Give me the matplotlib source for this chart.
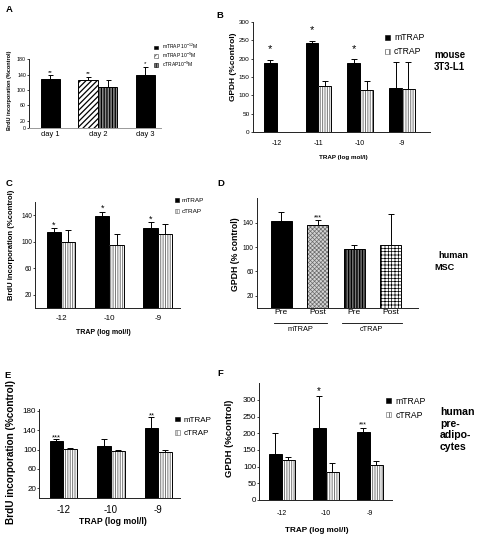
import numpy as np
import matplotlib
matplotlib.use('Agg')
import matplotlib.pyplot as plt
from matplotlib.patches import Patch
from matplotlib.transforms import blended_transform_factory

plt.rcParams['font.family'] = ['Liberation Sans', 'DejaVu Sans']
plt.rcParams['mathtext.default'] = 'regular'
plt.rcParams['hatch.linewidth'] = 0.6

# ---------------- data ----------------
# Panel A (BrdU, days)
a_days = ['day 1', 'day 2', 'day 3']
a_m12_pos = [0, 2]
a_m12 = [128, 139]
a_m12_err = [10, 22]
a_m12_stars = ['**', '*']
a_m9 = [126]
a_m9_err = [9]
a_m9_stars = ['**']
a_c9 = [109]
a_c9_err = [17]
a_legend = ['mTRAP 10$^{-12}$M', 'mTRAP 10$^{-9}$M', 'cTRAP10$^{-9}$M']

# Panel B (GPDH mouse 3T3-L1)
b_conc = ['-12', '-11', '-10', '-9']
b_mtrap = [187, 242, 189, 120]
b_mtrap_err = [9, 7, 9, 71]
b_ctrap_pos = [1, 2, 3]
b_ctrap = [126, 115, 116]
b_ctrap_err = [12, 25, 75]
b_stars = ['*', '*', '*', '']

# Panel C (BrdU MSC)
c_conc = ['-12', '-10', '-9']
c_mtrap = [115, 138, 120]
c_mtrap_err = [5, 7, 9]
c_ctrap = [99, 95, 112]
c_ctrap_err = [18, 16, 15]
c_stars = ['*', '*', '*']

# Panel D (GPDH MSC)
d_labels = ['Pre', 'Post', 'Pre', 'Post']
d_groups = ['mTRAP', 'cTRAP']
d_values = [142, 136, 96, 104]
d_err = [15.5, 8, 7, 50]
d_stars = ['', '***', '', '']

# Panel E (BrdU pre-adipocytes)
e_conc = ['-12', '-10', '-9']
e_mtrap = [118, 108, 145]
e_mtrap_err = [3, 14, 22]
e_ctrap = [101, 97, 94]
e_ctrap_err = [2, 1.5, 6]
e_stars = ['***', '', '**']

# Panel F (GPDH pre-adipocytes)
f_conc = ['-12', '-10', '-9']
f_mtrap = [138, 215, 203]
f_mtrap_err = [64, 98, 12]
f_ctrap = [120, 85, 105]
f_ctrap_err = [10, 27, 12]
f_stars = ['', '*', '***']

# ---------------- helpers ----------------
W, H = 478, 538
fig = plt.figure(figsize=(W / 100, H / 100), dpi=100)


def PX(x):
    return x / W


def PY(y):
    return 1 - y / H


def make_ax(l, r, t, b):
    ax = fig.add_axes([l / W, 1 - b / H, (r - l) / W, (b - t) / H])
    ax.patch.set_visible(False)
    return ax


def bars(ax, x, h, w, face, hatch=None, hcolor='black', hlw=0.6):
    x = np.asarray(x, float)
    h = np.asarray(h, float)
    if hatch:
        bc = ax.bar(x, h, w, color=face, edgecolor=hcolor, hatch=hatch,
                    linewidth=0, zorder=2)
        for p in bc:
            try:
                p.set_hatch_linewidth(hlw)
            except AttributeError:
                pass
        ax.bar(x, h, w, fill=False, edgecolor='black', linewidth=0.7, zorder=3)
    else:
        ax.bar(x, h, w, color=face, edgecolor='black', linewidth=0.7, zorder=2)


def errs(ax, x, h, e, cap=2.2):
    e = np.asarray(e, float)
    ax.errorbar(np.asarray(x, float), h, yerr=[np.zeros(len(e)), e], fmt='none',
                ecolor='black', elinewidth=0.7, capsize=cap, capthick=0.7,
                zorder=1)


def stars(ax, x, top, labels, off_px, fs):
    for xi, ti, s in zip(x, top, labels):
        if s:
            ax.annotate(s, (xi, ti), xytext=(0, off_px * 0.72 - 0.58 * fs),
                        textcoords='offset points', ha='center',
                        va='baseline', fontsize=fs)


def style(ax, xlim, ylim, yticks, xticks, xlabels, ytfs, xtfs, xpad,
          spinec='#222222', bottomc=None):
    ax.set_xlim(*xlim)
    ax.set_ylim(*ylim)
    ax.spines['top'].set_visible(False)
    ax.spines['right'].set_visible(False)
    ax.spines['left'].set_linewidth(0.7)
    ax.spines['left'].set_color(spinec)
    ax.spines['bottom'].set_linewidth(0.7)
    ax.spines['bottom'].set_color(bottomc or spinec)
    ax.set_yticks(yticks)
    ax.set_xticks(xticks, xlabels)
    ax.tick_params(axis='y', length=1.6, width=0.6, labelsize=ytfs, pad=0.6,
                   color=spinec)
    ax.tick_params(axis='x', length=0, labelsize=xtfs, pad=xpad)


def legend(ax, handles, labels, x_left, y_center, fs, lsp, hl=0.6, hh=0.5,
           htp=0.5):
    ax.legend(handles, labels, loc='center left',
              bbox_to_anchor=(PX(x_left), PY(y_center)),
              bbox_transform=fig.transFigure, frameon=False, fontsize=fs,
              borderpad=0, borderaxespad=0, handlelength=hl, handleheight=hh,
              handletextpad=htp, labelspacing=lsp)


def ftext(x, y, s, fs, bold=True, rot=0, ha='center', va='center', **kw):
    fig.text(PX(x), PY(y), s, fontsize=fs, fontweight='bold' if bold else 'normal',
             rotation=rot, ha=ha, va=va, **kw)


blk_h = Patch(facecolor='black', edgecolor='black', lw=0.4)
ctr_h = Patch(facecolor='white', edgecolor='#666666', hatch='||||', lw=0.4)

# ---------------- Panel A ----------------
axA = make_ax(29, 161, 59.3, 128.3)
wA = 0.41
bars(axA, a_m12_pos, a_m12, wA, 'black')
errs(axA, a_m12_pos, a_m12, a_m12_err, cap=1.8)
stars(axA, a_m12_pos, np.add(a_m12, a_m12_err), a_m12_stars, 5, 4.5)
xA9 = [1 - wA / 2]
xAc = [1 + wA / 2]
bars(axA, xA9, a_m9, wA, 'white', hatch='//////', hcolor='black', hlw=0.9)
errs(axA, xA9, a_m9, a_m9_err, cap=1.8)
stars(axA, xA9, np.add(a_m9, a_m9_err), a_m9_stars, 5, 4.5)
bars(axA, xAc, a_c9, wA, '#8a8a8a', hatch='||||||', hcolor='black', hlw=0.9)
errs(axA, xAc, a_c9, a_c9_err, cap=1.8)
style(axA, (-0.447, 2.33), (0, 180), [0, 20, 60, 100, 140, 180], [0, 1, 2],
      a_days, 3.8, 5.4, 2, bottomc='#999999')
legend(axA, [blk_h,
             Patch(facecolor='white', edgecolor='#555555', hatch='//////', lw=0.4),
             Patch(facecolor='#8a8a8a', edgecolor='black', hatch='||||', lw=0.4)],
       a_legend, 154, 55.5, 3.6, -0.1, hl=0.8, hh=0.7, htp=0.8)
ftext(10, 90, 'BrdU incorporation (%control)', 4.0, rot=90)

# ---------------- Panel B ----------------
axB = make_ax(252.7, 430, 22, 132)
wB = 0.31
xb = np.arange(len(b_conc))
bars(axB, xb - wB / 2, b_mtrap, wB, 'black')
errs(axB, xb - wB / 2, b_mtrap, b_mtrap_err)
stars(axB, xb - wB / 2, np.add(b_mtrap, b_mtrap_err), b_stars, 14, 8)
xbc = np.asarray(b_ctrap_pos) + wB / 2
bars(axB, xbc, b_ctrap, wB, 'white', hatch='|||||||', hcolor='#777777', hlw=0.7)
errs(axB, xbc, b_ctrap, b_ctrap_err)
style(axB, (-0.574, 3.67), (0, 300), np.arange(0, 301, 50), xb, b_conc,
      4.6, 5.0, 6)
legend(axB, [blk_h, ctr_h], ['mTRAP', 'cTRAP'], 384.5, 44.8, 6.2, 0.55)
ftext(233.5, 67, 'GPDH (%control)', 6.0, rot=90)
ftext(343, 157, 'TRAP (log mol/l)', 4.5)
ftext(434, 61, 'mouse\n3T3-L1', 6.9, ha='left', linespacing=1.3)

# ---------------- Panel C ----------------
axC = make_ax(35, 180, 201.7, 308.3)
wC = 0.296
xc = np.arange(len(c_conc))
bars(axC, xc - wC / 2, c_mtrap, wC, 'black')
errs(axC, xc - wC / 2, c_mtrap, c_mtrap_err)
stars(axC, xc - wC / 2, np.add(c_mtrap, c_mtrap_err), c_stars, 6, 6.5)
bars(axC, xc + wC / 2, c_ctrap, wC, 'white', hatch='|||||||', hcolor='#777777', hlw=0.7)
errs(axC, xc + wC / 2, c_ctrap, c_ctrap_err)
style(axC, (-0.54, 2.46), (0, 160), [20, 60, 100, 140], xc, c_conc,
      4.7, 5.8, 5)
legend(axC, [blk_h, ctr_h], ['mTRAP', 'cTRAP'], 174.7, 206, 4.6, 0.95)
ftext(12, 245, 'BrdU incorporation (%control)', 5.5, rot=90)
ftext(103, 333, 'TRAP (log mol/l)', 5.0)

# ---------------- Panel D ----------------
axD = make_ax(256.7, 418, 198.3, 308)
wD = 0.57
xd = np.arange(len(d_labels))
d_face = ['black', '#d4d4d4', '#7a7a7a', 'white']
d_hatch = [None, 'xxxxxxxx', '||||||', '+++++']
d_hcol = ['black', '#6a6a6a', 'black', 'black']
d_hlw = [0.6, 0.5, 1.0, 0.5]
for i in range(len(d_values)):
    bars(axD, [xd[i]], [d_values[i]], wD, d_face[i], hatch=d_hatch[i],
         hcolor=d_hcol[i], hlw=d_hlw[i])
errs(axD, xd, d_values, d_err, cap=2.5)
stars(axD, xd, np.add(d_values, d_err), d_stars, 4.5, 5)
style(axD, (-0.674, 3.745), (0, 180), [20, 60, 100, 140], xd, d_labels,
      4.7, 6.0, 1)
trD = blended_transform_factory(axD.transData, fig.transFigure)
for (x0, x1), g in zip([(-0.2, 1.26), (1.66, 3.3)], d_groups):
    axD.plot([x0, x1], [PY(322.7)] * 2, color='black', lw=0.6,
             transform=trD, clip_on=False)
    axD.text((x0 + x1) / 2, PY(329.5), g, transform=trD, ha='center',
             va='center', fontsize=5.3)
ftext(235, 254, 'GPDH (% control)', 6.3, rot=90)
ftext(438, 255, 'human', 6.6, ha='left')
ftext(434, 267.3, 'MSC', 6.6, ha='left')

# ---------------- Panel E ----------------
axE = make_ax(39.3, 180, 409.3, 497.7)
wE = 0.29
xe = np.arange(len(e_conc))
bars(axE, xe - wE / 2, e_mtrap, wE, 'black')
errs(axE, xe - wE / 2, e_mtrap, e_mtrap_err)
stars(axE, xe - wE / 2, np.add(e_mtrap, e_mtrap_err), e_stars, 4.5, 5.5)
bars(axE, xe + wE / 2, e_ctrap, wE, 'white', hatch='|||||||', hcolor='#777777', hlw=0.7)
errs(axE, xe + wE / 2, e_ctrap, e_ctrap_err)
style(axE, (-0.505, 2.457), (0, 183.5), [20, 60, 100, 140, 180], xe, e_conc,
      5.8, 7.0, 5)
legend(axE, [blk_h, ctr_h], ['mTRAP', 'cTRAP'], 175, 427, 5.8, 0.75)
ftext(11, 452, 'BrdU incorporation (%control)', 7.2, rot=90)
ftext(113, 522, 'TRAP (log mol/l)', 6.2)

# ---------------- Panel F ----------------
axF = make_ax(259.3, 392, 383.3, 500)
wF = 0.30
xf = np.arange(len(f_conc))
bars(axF, xf - wF / 2, f_mtrap, wF, 'black')
errs(axF, xf - wF / 2, f_mtrap, f_mtrap_err)
for xi, ti, s in zip(xf - wF / 2, np.add(f_mtrap, f_mtrap_err), f_stars):
    if s:
        fs = 7 if s == '*' else 5
        stars(axF, [xi], [ti], [s], 7 if s == '*' else 5.5, fs)
bars(axF, xf + wF / 2, f_ctrap, wF, 'white', hatch='|||||||', hcolor='#777777', hlw=0.7)
errs(axF, xf + wF / 2, f_ctrap, f_ctrap_err)
style(axF, (-0.51, 2.507), (0, 350), np.arange(0, 301, 50), xf, f_conc,
      5.8, 5.0, 7.4)
legend(axF, [blk_h, ctr_h], ['mTRAP', 'cTRAP'], 386, 408.2, 6.2, 0.55)
ftext(230, 438, 'GPDH (%control)', 6.8, rot=90)
ftext(317, 530, 'TRAP (log mol/l)', 5.9)
ftext(440, 429.5, 'human\npre-\nadipo-\ncytes', 7.6, ha='left', linespacing=1.2)

# ---------------- panel letters ----------------
for s, (x, y) in zip('ABCDEF', [(9, 10), (220, 15), (9, 183), (221, 184),
                                (8, 375), (220, 374)]):
    ftext(x, y, s, 6.8)

fig.savefig('out.png', dpi=100)
